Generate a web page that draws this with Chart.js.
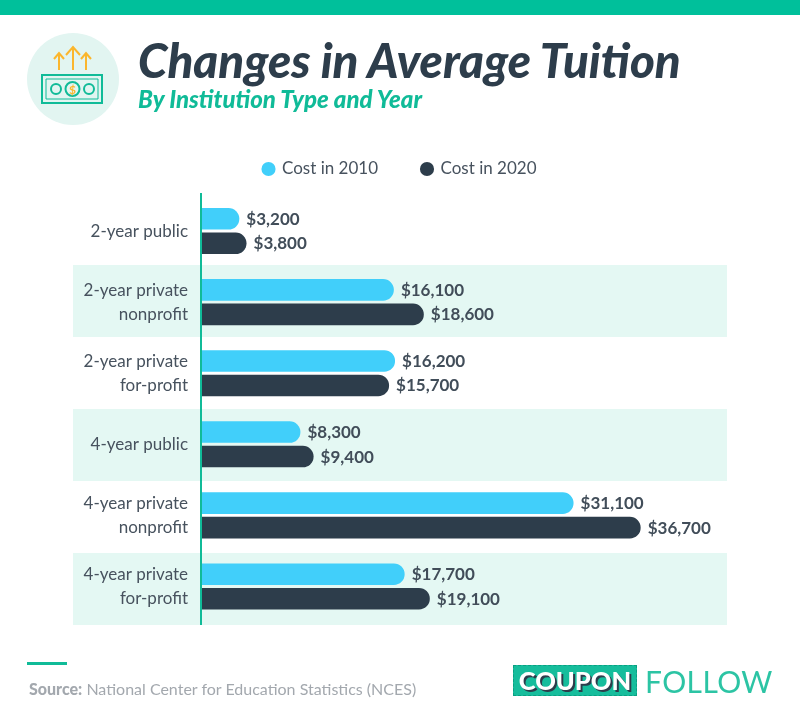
<!DOCTYPE html>
<html>
<head>
<meta charset="utf-8">
<script src="https://cdn.jsdelivr.net/npm/chart.js@4"></script>
<style>
  html, body { margin: 0; padding: 0; background: #fff; }
  #page { position: relative; width: 800px; height: 717px; overflow: hidden; font-family: Lato, sans-serif; }
  #page div, #page svg { position: absolute; white-space: nowrap; }
  canvas { position: absolute; left: 0; top: 0; }
  .topbar { left: 0; top: 0; width: 800px; height: 15px; background: #00c09b; }
  .title { left: 138px; top: 32px; font-size: 47.5px; line-height: 56px; font-weight: 900; font-style: italic; color: #2d3d4b; }
  .subtitle { left: 138px; top: 85px; font-size: 24px; line-height: 28px; font-weight: 900; font-style: italic; color: #10bb98; }
  .rule { left: 27px; top: 662px; width: 40px; height: 3px; background: #10bb98; }
  .source { left: 29px; top: 679px; font-size: 16px; line-height: 20px; color: #a3a8ae; }
  .source b { font-weight: 900; }
  .coupon { left: 513px; top: 665px; width: 124px; height: 31px; background: #16bd9c; border: 1px dashed #0a9f82; box-sizing: border-box; color: #fff; font-size: 25.5px; line-height: 29px; font-weight: 900; text-align: center; text-shadow: 2px 2px 0 #2d3d4b; }
  .follow { left: 645px; top: 662px; font-size: 30px; line-height: 38px; letter-spacing: 0.4px; color: #2cc4a4; }
</style>
</head>
<body>
<div id="page">
  <canvas id="chart" width="800" height="717"></canvas>
  <div class="topbar"></div>
  <svg style="left:27px;top:33px" width="92" height="92" viewBox="0 0 92 92">
    <circle cx="46" cy="46" r="46" fill="#e2f5f1"/>
    <g fill="none" stroke="#fbb62d" stroke-width="2">
      <path d="M46 37V14M39 22l7-8 7 8"/>
      <path d="M32 37V20M27 26l5-6 5 6"/>
      <path d="M59 37V20M54 26l5-6 5 6"/>
    </g>
    <g fill="none" stroke="#10bb98" stroke-width="2">
      <rect x="15" y="42" width="60" height="28"/>
      <path d="M19 46h52v20H19z" stroke-width="1"/>
      <circle cx="29" cy="56" r="5"/>
      <circle cx="62" cy="56" r="5"/>
      <circle cx="45.500" cy="56" r="7"/>
    </g>
    <text x="45.500" y="60.500" text-anchor="middle" font-size="12" font-weight="700" fill="#fbb62d" font-family="Lato">$</text>
  </svg>
  <div class="title">Changes in Average Tuition</div>
  <div class="subtitle">By Institution Type and Year</div>
  <div class="rule"></div>
  <div class="source"><b>Source:</b> National Center for Education Statistics (NCES)</div>
  <div class="coupon">COUPON</div>
  <div class="follow">FOLLOW</div>
</div>
<script>
const categories = [
  '2-year public',
  ['2-year private', 'nonprofit'],
  ['2-year private', 'for-profit'],
  '4-year public',
  ['4-year private', 'nonprofit'],
  ['4-year private', 'for-profit']
];
const cost2010 = [3200, 16100, 16200, 8300, 31100, 17700];
const cost2020 = [3800, 18600, 15700, 9400, 36700, 19100];
// bar lengths as drawn; the picture draws the $17,700 bar shorter than its label, near 17,000
const barLength2010 = [3200, 16100, 16200, 8300, 31100, 17000];
const seriesNames = ['Cost in 2010', 'Cost in 2020'];

const LIGHT = '#41cffa';
const DARK = '#2d3d4b';
const TEAL = '#10bb98';
const TEXT = '#47525e';

// striped rows behind everything, a bit taller than the category rows
const bandsPlugin = {
  id: 'bands',
  beforeDraw(chart) {
    const { ctx, scales: { y } } = chart;
    const rowH = 72;
    ctx.save();
    ctx.fillStyle = '#e4f8f3';
    categories.forEach((c, i) => {
      if (i % 2 === 1) ctx.fillRect(73, y.top - 2.5 + i * rowH, 654, rowH);
    });
    ctx.restore();
  }
};

// axis line sits above the bands
const axisLinePlugin = {
  id: 'axisLine',
  afterDatasetsDraw(chart) {
    const { ctx, scales: { x, y } } = chart;
    ctx.save();
    ctx.strokeStyle = TEAL;
    ctx.lineWidth = 2;
    ctx.beginPath();
    ctx.moveTo(x.left, y.top - 2.5);
    ctx.lineTo(x.left, y.bottom + 3);
    ctx.stroke();
    ctx.restore();
  }
};

const valueLabelsPlugin = {
  id: 'valueLabels',
  afterDatasetsDraw(chart) {
    const { ctx } = chart;
    const printed = [cost2010, cost2020];
    ctx.save();
    ctx.font = '700 17px Lato';
    ctx.fillStyle = '#414d59';
    ctx.textBaseline = 'middle';
    printed.forEach((values, d) => {
      chart.getDatasetMeta(d).data.forEach((bar, i) => {
        ctx.fillText('$' + values[i].toLocaleString('en-US'), bar.x + 7, bar.y + 0.5);
      });
    });
    ctx.restore();
  }
};

// legend items need wide gaps but only a short box under them
const legendHeightPlugin = {
  id: 'legendHeight',
  afterInit(chart) {
    const legend = chart.legend;
    const fit = legend.fit;
    legend.fit = function () {
      fit.call(this);
      this.height = 79;
    };
  }
};

new Chart(document.getElementById('chart'), {
  type: 'bar',
  data: {
    labels: categories,
    datasets: [
      { label: seriesNames[0], data: barLength2010, backgroundColor: LIGHT, borderRadius: { topRight: 11, bottomRight: 11 }, borderSkipped: false },
      { label: seriesNames[1], data: cost2020, backgroundColor: DARK, borderRadius: { topRight: 11, bottomRight: 11 }, borderSkipped: false }
    ]
  },
  options: {
    indexAxis: 'y',
    responsive: false,
    animation: false,
    categoryPercentage: 0.69,
    barPercentage: 0.88,
    layout: { padding: { top: 116.5, bottom: 95 } },
    plugins: {
      tooltip: { enabled: false },
      legend: {
        position: 'top',
        labels: {
          usePointStyle: true,
          pointStyle: 'circle',
          boxWidth: 10,
          boxHeight: 10,
          padding: 44,
          color: TEXT,
          font: { family: 'Lato', size: 17 }
        }
      }
    },
    scales: {
      x: { min: 0, max: 50000, display: false },
      y: {
        afterFit(scale) { scale.width = 201; },
        grid: { display: false, drawTicks: false },
        border: { display: false },
        ticks: {
          autoSkip: false,
          color: TEXT,
          padding: 13,
          font: { family: 'Lato', size: 17, lineHeight: 1.42 }
        }
      }
    }
  },
  plugins: [bandsPlugin, axisLinePlugin, valueLabelsPlugin, legendHeightPlugin]
});
</script>
</body>
</html>
